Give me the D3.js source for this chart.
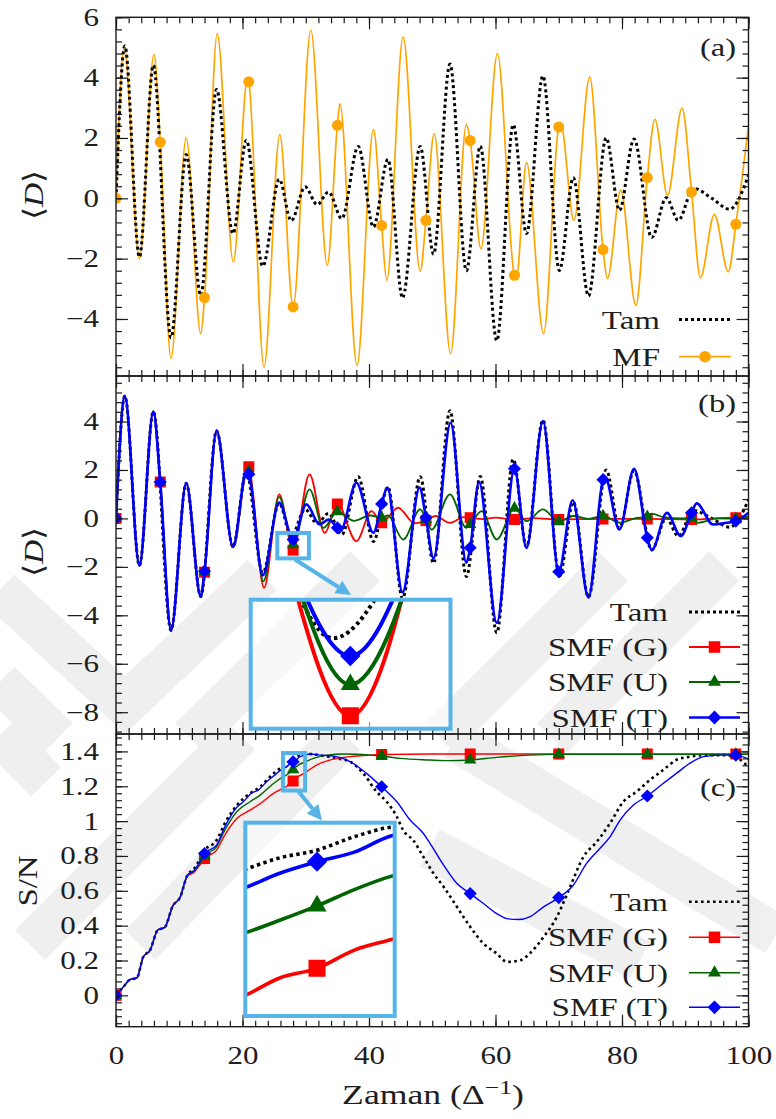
<!DOCTYPE html>
<html>
<head>
<meta charset="utf-8">
<script src="https://cdn.jsdelivr.net/npm/d3@7/dist/d3.min.js"></script>
<style>
html,body{margin:0;padding:0;background:#fff;}
svg{display:block;}
</style>
</head>
<body>
<svg id="chart" width="776" height="1119"></svg>
<script>
// ---------------- DATA (time in 1/Delta, value) ----------------
const tamD = [[0,0],[1.4,5.05],[3.7,-1.95],[5.9,4.41],[8.7,-4.62],[11.1,1.45],[13.4,-3.22],[15.9,3.61],[18.5,-1.17],[20.6,1.92],[23.2,-2.25],[25.8,0.63],[27.7,-0.74],[29.9,0.38],[31.8,-0.21],[33.6,0.21],[35.7,-0.67],[38.3,1.72],[40.7,-0.95],[43.0,1.29],[45.3,-3.3],[48.1,1.72],[50.2,-1.85],[52.8,4.45],[55.4,-2.4],[57.6,1.73],[60.2,-4.72],[62.8,2.44],[64.9,-1.17],[67.5,4.06],[70.1,-2.39],[72.3,0.68],[74.7,-3.24],[77.5,2.0],[79.6,-0.4],[81.9,1.97],[84.7,-1.3],[87.0,0.02],[88.9,-0.73],[91.3,0.33],[94.2,0.0],[97.0,-0.36],[100,0.76]];
const mfD = [[0,0],[1.3,5.02],[3.7,-2.0],[6.0,4.76],[7,1.86],[8.7,-5.31],[11.1,2.0],[13.4,-4.49],[14,-3.29],[16.0,5.46],[18.55,-2.11],[20.8,4.0],[21,3.86],[23.4,-5.59],[25.9,2.11],[28,-3.6],[30.8,5.57],[33.4,-2.22],[35,2.42],[35.4,3.14],[38.1,-5.54],[40.7,2.28],[42,-0.9],[42.8,-2.72],[45.4,5.35],[48.1,-2.42],[49,-0.73],[50.3,2.14],[52.9,-5.15],[55.4,2.44],[56,1.92],[57.7,-1.67],[60.3,4.8],[63,-2.55],[63.3,-2.62],[64.9,1.18],[67.6,-4.49],[70,2.36],[70.3,2.48],[72.4,-0.73],[74.9,4.02],[77,-1.7],[77.7,-2.66],[79.8,0.27],[82.2,-3.55],[84,0.69],[85.2,2.62],[87.2,0.1],[89.5,2.99],[91,0.21],[92.4,-2.63],[94.6,-0.53],[96.8,-2.44],[98,-0.86],[100,2.4]];
const smfGD = [[0,0],[1.4,5.05],[3.7,-1.95],[5.9,4.41],[7,1.5],[8.7,-4.62],[11.1,1.45],[13.4,-3.22],[14,-2.22],[15.9,3.65],[18.5,-1.2],[20.85,2.15],[21,2.13],[23.4,-2.87],[25.8,0.99],[28,-1.31],[30.6,1.82],[33.0,-0.6],[35,0.6],[38.0,-0.94],[40.4,0.3],[42,-0.18],[44.6,0.44],[47.2,-0.2],[49,-0.09],[50.5,0.1],[52.8,-0.18],[55,0.05],[56,0.03],[58,-0.03],[60,0.03],[63,-0.04],[66,0.01],[70,-0.04],[77,-0.02],[84,-0.02],[91,-0.04],[98,0.03],[100,0.0]];
const smfUD = [[0,0],[1.4,5.05],[3.7,-1.95],[5.9,4.41],[7,1.5],[8.7,-4.62],[11.1,1.45],[13.4,-3.22],[14,-2.2],[15.9,3.63],[18.5,-1.18],[20.75,2.02],[21,1.95],[23.3,-2.6],[25.8,0.89],[28,-1.08],[30.6,1.2],[32.8,-0.39],[35,0.28],[37.6,-0.1],[40.2,0.12],[42,0.03],[43,0.12],[45.4,-0.87],[48.1,0.37],[49,-0.04],[49.9,-0.46],[52.8,0.99],[55.4,-0.39],[56,-0.25],[57.8,0.3],[60.2,-0.87],[63,0.42],[64.9,-0.11],[67.5,0.37],[70,-0.13],[72.3,0.1],[74.7,-0.02],[77,0.1],[79.7,-0.18],[82,0.0],[84,0.07],[84.6,0.2],[87,0.02],[89.3,0.0],[91,0.03],[92,-0.18],[95,0.0],[98,-0.01],[100,0.08]];
const smfTD = [[0,0],[1.4,5.05],[3.7,-1.95],[5.9,4.41],[7,1.5],[8.7,-4.62],[11.1,1.45],[13.4,-3.22],[14,-2.18],[15.9,3.61],[18.5,-1.17],[20.6,1.92],[21,1.82],[23.2,-2.35],[25.8,0.66],[28,-0.87],[30.1,0.58],[32.2,-0.25],[33.6,-0.05],[35,-0.39],[35.5,-0.52],[38.0,1.47],[40.7,-0.59],[42,0.6],[42.9,1.27],[45.3,-3.05],[48.0,1.27],[49,0.03],[50.2,-1.65],[52.9,3.95],[55.4,-1.83],[56,-1.21],[57.4,1.5],[60.2,-4.31],[63,2.05],[64.9,-1.22],[67.5,4.02],[70,-2.2],[72.2,0.75],[74.7,-3.26],[77,1.6],[77.3,1.72],[79.6,-0.46],[81.9,2.05],[84,-0.8],[84.7,-1.31],[87.1,0.23],[89.3,-0.73],[91,0.23],[91.8,0.62],[94.4,-0.25],[96.5,-0.18],[98,-0.11],[100,0.23]];

const tamSN = [[0,0],[1.2,0.05],[2.2,0.09],[3.3,0.1],[4.3,0.22],[5.4,0.26],[6.6,0.375],[7.7,0.39],[9.0,0.515],[10.1,0.56],[11.3,0.69],[12.3,0.725],[13.4,0.79],[14,0.83],[15.9,0.89],[17.2,0.987],[19.1,1.09],[21.2,1.159],[22.8,1.197],[24.9,1.274],[26.2,1.31],[27.0,1.332],[27.5,1.345],[28,1.353],[28.5,1.367],[29.0,1.377],[30.7,1.385],[32.8,1.374],[34.9,1.36],[37,1.341],[39.1,1.274],[41.2,1.169],[42.8,1.111],[44.4,1.025],[45.4,0.948],[47,0.89],[48.6,0.795],[50.2,0.7],[51.8,0.623],[53.9,0.508],[56,0.393],[58.1,0.297],[60.2,0.24],[61.8,0.192],[63.9,0.201],[65.4,0.24],[67.6,0.335],[69.7,0.45],[71.8,0.623],[73.9,0.795],[76,0.881],[78.1,0.987],[80.2,1.111],[82.3,1.169],[84.4,1.236],[86.5,1.293],[88.6,1.351],[90.7,1.37],[93.4,1.379],[96,1.379],[98.1,1.37],[99.4,1.33],[100,1.32]];
const smfGSN = [[0,0],[1.2,0.05],[2.2,0.09],[3.3,0.1],[4.3,0.22],[5.4,0.26],[6.6,0.375],[7.7,0.39],[9.0,0.515],[10.1,0.56],[11.3,0.685],[12.3,0.705],[13.4,0.755],[14,0.785],[15.9,0.833],[17.2,0.92],[19.1,1.015],[21.2,1.063],[22.8,1.1],[24.9,1.159],[26.2,1.185],[27.0,1.2005],[27.5,1.22],[28,1.23],[28.5,1.249],[29.0,1.26],[30.1,1.283],[31.7,1.322],[33.8,1.35],[37,1.37],[40.2,1.379],[42,1.382],[50,1.385],[56,1.385],[70,1.385],[84,1.385],[98,1.385],[100,1.385]];
const smfUSN = [[0,0],[1.2,0.05],[2.2,0.09],[3.3,0.1],[4.3,0.22],[5.4,0.26],[6.6,0.375],[7.7,0.39],[9.0,0.515],[10.1,0.56],[11.3,0.69],[12.3,0.712],[13.4,0.765],[14,0.8],[15.9,0.852],[17.2,0.948],[19.1,1.054],[21.2,1.111],[22.8,1.149],[24.9,1.216],[26.2,1.25],[27.0,1.266],[27.5,1.28],[28,1.295],[28.5,1.312],[29.0,1.326],[29.6,1.335],[31.2,1.36],[33.3,1.379],[36,1.385],[40.2,1.379],[42,1.374],[44.9,1.36],[49.6,1.351],[52.8,1.347],[56,1.351],[60.2,1.366],[65.4,1.379],[70,1.383],[84,1.383],[98,1.383],[100,1.383]];
const smfTSN = [[0,0],[1.2,0.05],[2.2,0.09],[3.3,0.1],[4.3,0.22],[5.4,0.26],[6.6,0.375],[7.7,0.39],[9.0,0.515],[10.1,0.56],[11.3,0.69],[12.3,0.715],[13.4,0.775],[14,0.814],[15.9,0.862],[17.2,0.967],[19.1,1.08],[20.1,1.11],[21.4,1.16],[22.5,1.178],[23.8,1.226],[25.1,1.264],[26.3,1.3],[27.0,1.313],[27.5,1.329],[28,1.341],[28.5,1.351],[29.0,1.368],[30.7,1.385],[32.3,1.379],[34.9,1.37],[37.0,1.341],[39.6,1.274],[42,1.197],[44.4,1.111],[46.5,1.006],[48.6,0.929],[49.6,0.875],[51.8,0.747],[53.9,0.642],[56,0.584],[58.1,0.527],[60.2,0.469],[61.8,0.44],[63.6,0.435],[65.4,0.45],[67.6,0.508],[70,0.561],[72.3,0.632],[74.4,0.757],[76.5,0.843],[78.1,0.91],[79.7,1.006],[81.8,1.092],[84,1.144],[86.5,1.216],[88.6,1.274],[90.7,1.331],[92.9,1.37],[95.5,1.379],[98,1.379],[99.7,1.36],[100,1.355]];

const xTicks = [0,20,40,60,80,100];
const yTicksA = [-4,-2,0,2,4,6];
const yTicksB = [-8,-6,-4,-2,0,2,4];
const yTicksC = [0,0.2,0.4,0.6,0.8,1,1.2,1.4];
const legendA = ["Tam","MF"];
const legendBC = ["Tam","SMF (G)","SMF (U)","SMF (T)"];
const panelTags = ["(a)","(b)","(c)"];

// ---------------- STYLE / LAYOUT ----------------
const FONT = "'Liberation Serif','Times New Roman',serif";
const FS = 25, SX = 1.24, INK = "#1e1e1e";
const X0 = 116, X1 = 748.5;
const svg = d3.select("#chart");
const x = d3.scaleLinear().domain([0,100]).range([X0,X1]);

const P = [
  {top:17.3, bot:376,   y:d3.scaleLinear().domain([-5.89,6]).range([376,17.3]),   major:yTicksA, minor:0.4},
  {top:376,  bot:734,   y:d3.scaleLinear().domain([-8.9,5.88]).range([734,376]),  major:yTicksB, minor:0.4},
  {top:734,  bot:1026.7,y:d3.scaleLinear().domain([-0.18,1.5]).range([1026.7,734]),major:yTicksC, minor:0.04}
];

const ST = {
  tam:  {color:"#000", w:3,   dash:"3,3"},
  mf:   {color:"#FFA500", w:1.7, sym:d3.symbolCircle, size:95},
  G:    {color:"#FF0000", w:1.8, sym:d3.symbolSquare, size:121},
  U:    {color:"#006400", w:1.8, sym:d3.symbolTriangle, size:66},
  T:    {color:"#0000FF", w:2.6, sym:d3.symbolSquare, size:86, rot:true}
};
const INSET = "#56B4E9";

function isMult(t, k){ return Math.abs(t/k - Math.round(t/k)) < 1e-9; }

function txt(parent, x0, y0, str, anchor, size, sx){
  return parent.append("text")
    .attr("transform", `translate(${x0},${y0}) scale(${sx||SX},1)`)
    .attr("text-anchor", anchor || "start")
    .style("font-family", FONT).style("font-size", (size||FS)+"px")
    .attr("fill", INK).text(str);
}

// ---------------- WATERMARK (faint background logo) ----------------
{
  const wm = svg.append("g").attr("opacity",0.06).attr("fill","none").attr("stroke","#000").attr("stroke-width",42);
  const bands = [
    [[0,590],[125,705],[262,575]],
    [[0,682],[58,738]],
    [[190,738],[365,566]],
    [[440,738],[613,566]],
    [[552,738],[724,566]],
    [[0,735],[46,782]],
    [[30,945],[240,735]],
    [[140,945],[345,735]],
    [[455,740],[776,935]],
    [[430,848],[640,960]]
  ];
  bands.forEach(b => wm.append("path").attr("d", d3.line()(b)).attr("stroke-linejoin","miter"));
}

// ---------------- AXES ----------------
function styleAxis(sel){
  sel.select(".domain").remove();
  sel.selectAll("line").attr("stroke-width",1.2);
  sel.attr("color","#1a1a1a");
}
function drawAxes(p, withXLabels){
  const g = svg.append("g");
  const d = p.y.domain();
  const minorY = d3.range(Math.ceil(d[0]/p.minor-1e-9), Math.floor(d[1]/p.minor+1e-9)+1).map(i => +(i*p.minor).toFixed(5));
  const minorX = d3.range(0,51).map(i => i*2);
  const none = () => "";
  const left = g.append("g").attr("transform",`translate(${X0},0)`)
    .call(d3.axisLeft(p.y).tickValues(p.major).tickSizeInner(-12).tickSizeOuter(0).tickPadding(17).tickFormat(d3.format("~g")));
  styleAxis(left);
  left.selectAll("text").style("font-family",FONT).style("font-size",FS+"px").attr("fill",INK)
    .attr("x",-17/SX).attr("transform",`scale(${SX},1)`);
  const left2 = g.append("g").attr("transform",`translate(${X0},0)`)
    .call(d3.axisLeft(p.y).tickValues(minorY).tickSizeInner(-6).tickSizeOuter(0).tickFormat(none));
  styleAxis(left2);
  [[-12,p.major],[-6,minorY]].forEach(([s,v])=>{
    const r = g.append("g").attr("transform",`translate(${X1},0)`)
      .call(d3.axisRight(p.y).tickValues(v).tickSizeInner(s).tickSizeOuter(0).tickFormat(none));
    styleAxis(r);
  });
  [[-12,xTicks],[-6,minorX]].forEach(([s,v])=>{
    const t = g.append("g").attr("transform",`translate(0,${p.top})`)
      .call(d3.axisTop(x).tickValues(v).tickSizeInner(s).tickSizeOuter(0).tickFormat(none));
    styleAxis(t);
  });
  const b = g.append("g").attr("transform",`translate(0,${p.bot})`)
    .call(d3.axisBottom(x).tickValues(xTicks).tickSizeInner(-12).tickSizeOuter(0).tickPadding(20).tickFormat(withXLabels ? d3.format("~g") : none));
  styleAxis(b);
  b.selectAll("text").style("font-family",FONT).style("font-size",FS+"px").attr("fill",INK)
    .attr("transform",`scale(${SX},1)`);
  const b2 = g.append("g").attr("transform",`translate(0,${p.bot})`)
    .call(d3.axisBottom(x).tickValues(minorX).tickSizeInner(-6).tickSizeOuter(0).tickFormat(none));
  styleAxis(b2);
  g.append("rect").attr("x",X0).attr("y",p.top).attr("width",X1-X0).attr("height",p.bot-p.top)
    .attr("fill","none").attr("stroke","#1a1a1a").attr("stroke-width",1.4);
}

// ---------------- SERIES ----------------
function drawLine(g, data, xs, ys, st, w, dash){
  const line = d3.line().x(d=>xs(d[0])).y(d=>ys(d[1])).curve(d3.curveMonotoneX);
  g.append("path").datum(data).attr("d",line).attr("fill","none")
    .attr("stroke",st.color).attr("stroke-width",w||st.w)
    .attr("stroke-dasharray",dash||st.dash||null).attr("stroke-linejoin","round");
}
function drawMarkers(g, data, xs, ys, st, every, k){
  const [a,b] = xs.domain();
  g.selectAll(null).data(data.filter(d => isMult(d[0],every) && d[0]>=a && d[0]<=b)).join("path")
    .attr("transform", d => `translate(${xs(d[0])},${ys(d[1])})${st.rot?" rotate(45)":""}`)
    .attr("d", d3.symbol(st.sym, st.size*(k||1))).attr("fill", st.color);
}
function clip(id, x0, y0, w, h){
  svg.append("clipPath").attr("id",id).append("rect").attr("x",x0).attr("y",y0).attr("width",w).attr("height",h);
  return svg.append("g").attr("clip-path",`url(#${id})`);
}

{
  const p = P[0];
  const g = clip("ca", X0, p.top, X1-X0, p.bot-p.top);
  drawLine(g, mfD, x, p.y, ST.mf);
  drawLine(g, tamD, x, p.y, ST.tam);
  drawMarkers(g, mfD, x, p.y, ST.mf, 7);
}
{
  const p = P[1];
  const g = clip("cb", X0, p.top, X1-X0, p.bot-p.top);
  drawLine(g, tamD, x, p.y, ST.tam);
  [[smfGD,ST.G],[smfUD,ST.U],[smfTD,ST.T]].forEach(([d,s])=>{ drawLine(g,d,x,p.y,s); drawMarkers(g,d,x,p.y,s,7); });
}
{
  const p = P[2];
  const g = clip("cc", X0, p.top, X1-X0, p.bot-p.top);
  drawLine(g, tamSN, x, p.y, ST.tam, 2.6, "2.6,3.4");
  [[smfGSN,ST.G],[smfUSN,ST.U],[smfTSN,ST.T]].forEach(([d,s])=>{ drawLine(g,d,x,p.y,s,1.4); drawMarkers(g,d,x,p.y,s,14); });
}

P.forEach((p,i)=>drawAxes(p, i===2));

// ---------------- INSETS ----------------
function arrow(x1,y1,x2,y2){
  const a = Math.atan2(y2-y1,x2-x1), L=15, W=7.5;
  const bx = x2-L*Math.cos(a), by = y2-L*Math.sin(a);
  svg.append("line").attr("x1",x1).attr("y1",y1).attr("x2",bx).attr("y2",by).attr("stroke",INSET).attr("stroke-width",4);
  svg.append("path").attr("d",`M${x2},${y2}L${bx+W*Math.sin(a)},${by-W*Math.cos(a)}L${bx-W*Math.sin(a)},${by+W*Math.cos(a)}Z`).attr("fill",INSET);
}
function inset(id, box, src, tD, vD, series, tam, every, lw, srcScaleY){
  const [bx0,by0,bx1,by1] = box;
  const xi = d3.scaleLinear().domain(tD).range([bx0,bx1]);
  const yi = d3.scaleLinear().domain(vD).range([by0,by1]);
  svg.append("rect").attr("x",bx0).attr("y",by0).attr("width",bx1-bx0).attr("height",by1-by0).attr("fill","#fff").attr("fill-opacity",0.55);
  const g = clip(id, bx0, by0, bx1-bx0, by1-by0);
  drawLine(g, tam, xi, yi, ST.tam, lw, "3.4,3.4");
  series.forEach(([d,s])=>drawLine(g,d,xi,yi,s,lw));
  series.forEach(([d,s])=>drawMarkers(g,d,xi,yi,s,every,2.4));
  svg.append("rect").attr("x",bx0).attr("y",by0).attr("width",bx1-bx0).attr("height",by1-by0)
    .attr("fill","none").attr("stroke",INSET).attr("stroke-width",4);
  svg.append("rect").attr("x",x(src[0])).attr("y",srcScaleY(src[3])).attr("width",x(src[1])-x(src[0])).attr("height",srcScaleY(src[2])-srcScaleY(src[3]))
    .attr("fill","none").attr("stroke",INSET).attr("stroke-width",4);
}
inset("ib",[250.7,599.7,450.5,728.7],[25.5,30.5,-1.65,-0.6],[26.27,29.74],[-0.456,-1.405],
      [[smfGD,ST.G],[smfUD,ST.U],[smfTD,ST.T]], tamD, 7, 4, P[1].y);
arrow(295,559.5,351,595);
inset("ic",[245.3,822.7,394.7,1016],[26.4,29.9,1.1755,1.391],[27.04,29.04],[1.3816,1.1804],
      [[smfGSN,ST.G],[smfUSN,ST.U],[smfTSN,ST.T]], tamSN, 14, 3.6, P[2].y);
arrow(298.5,791.5,322,820.5);

// ---------------- LEGENDS ----------------
const LFS = 26, LSX = 1.27;
function legend(rows, tx, lx0, lx1){
  rows.forEach(([label, st, y, w, dash])=>{
    txt(svg, tx, y+9, label, "end", LFS, LSX);
    svg.append("line").attr("x1",lx0).attr("x2",lx1).attr("y1",y).attr("y2",y)
      .attr("stroke",st.color).attr("stroke-width",w).attr("stroke-dasharray",dash||null);
    if (st.sym) svg.append("path").attr("transform",`translate(${(lx0+lx1)/2},${y})${st.rot?" rotate(45)":""}`)
      .attr("d",d3.symbol(st.sym, st.size*1.1)).attr("fill",st.color);
  });
}
legend([[legendA[0],ST.tam,319.5,3,"3,3"],[legendA[1],ST.mf,356.7,1.7]], 660, 679, 731);
legend([[legendBC[0],ST.tam,612,3,"3,3"],[legendBC[1],ST.G,647,1.8],[legendBC[2],ST.U,682,1.8],[legendBC[3],ST.T,717.5,2.6]], 668, 689, 740);
legend([[legendBC[0],ST.tam,901.7,2.6,"2.6,3.4"],[legendBC[1],ST.G,937.3,1.4],[legendBC[2],ST.U,972.7,1.4],[legendBC[3],ST.T,1007.3,1.4]], 668, 689, 740);

txt(svg, 736, 56, panelTags[0], "end", 26, 1.25);
txt(svg, 736, 412, panelTags[1], "end", 26, 1.25);
txt(svg, 736, 796, panelTags[2], "end", 26, 1.25);

// ---------------- AXIS TITLES ----------------
function yTitleD(cx, cy){
  const t = svg.append("text").attr("transform",`translate(${cx},${cy}) rotate(-90) scale(1.2,1)`)
    .attr("text-anchor","middle").style("font-family",FONT).style("font-size","28px").attr("fill",INK);
  t.append("tspan").text("⟨");
  t.append("tspan").style("font-style","italic").text("D");
  t.append("tspan").text("⟩");
}
yTitleD(43, 195);
yTitleD(43, 552);
svg.append("text").attr("transform",`translate(37,881) rotate(-90) scale(1.22,1)`)
  .attr("text-anchor","middle").style("font-family",FONT).style("font-size","27px").attr("fill",INK).text("S/N");
{
  const t = svg.append("text").attr("transform",`translate(433,1104) scale(1.32,1)`)
    .attr("text-anchor","middle").style("font-family",FONT).style("font-size","27px").attr("fill",INK);
  t.append("tspan").text("Zaman (Δ");
  t.append("tspan").attr("dy","-0.5em").style("font-size","0.72em").text("−1");
  t.append("tspan").attr("dy","0.36em").text(")");
}
</script>
</body>
</html>
